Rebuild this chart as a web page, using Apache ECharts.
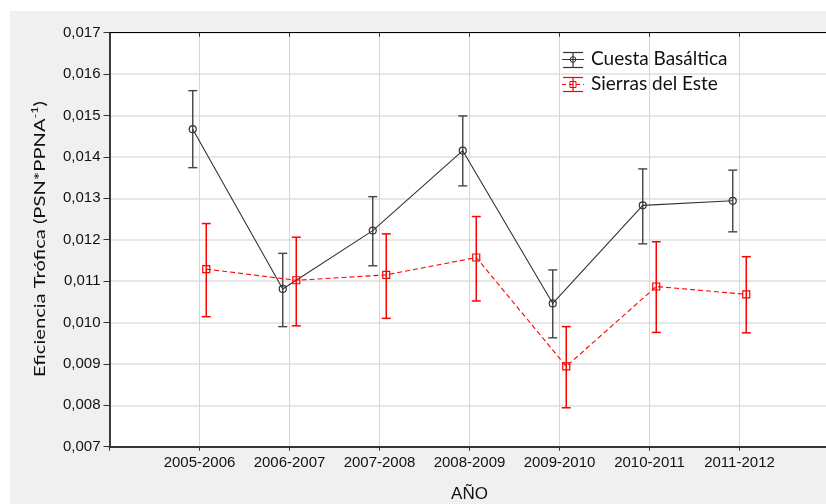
<!DOCTYPE html>
<html>
<head>
<meta charset="utf-8">
<script src="https://cdn.jsdelivr.net/npm/echarts@6/dist/echarts.min.js"></script>
<style>
  html, body { margin: 0; padding: 0; background: #ffffff; }
  #chart { width: 826px; height: 504px; }
</style>
</head>
<body>
<div id="chart"></div>
<script>
// Growing seasons on the horizontal axis
const categories = ['2005-2006', '2006-2007', '2007-2008', '2008-2009', '2009-2010', '2010-2011', '2011-2012'];

// Series names
const seriesNames = ['Cuesta Basáltica', 'Sierras del Este'];

// Cuesta Basáltica: mean with lower / upper error limits
const cuestaMean = [0.01467, 0.01081, 0.01222, 0.01415, 0.01046, 0.01283, 0.01294];
const cuestaLow  = [0.01374, 0.00990, 0.01137, 0.01330, 0.00963, 0.01190, 0.01219];
const cuestaHigh = [0.01560, 0.01167, 0.01304, 0.01499, 0.01127, 0.01371, 0.01368];

// Sierras del Este: mean with lower / upper error limits
const sierrasMean = [0.01129, 0.01102, 0.01115, 0.01157, 0.00894, 0.01087, 0.01068];
const sierrasLow  = [0.01014, 0.00992, 0.01010, 0.01052, 0.00794, 0.00976, 0.00975];
const sierrasHigh = [0.01239, 0.01206, 0.01214, 0.01256, 0.00990, 0.01195, 0.01159];

// Vertical axis range and step
const yMin = 0.007, yMax = 0.017, yStep = 0.001;

// Texts
const xTitle = 'AÑO';
const yTitleMain = 'Eficiencia Trófica (PSN*PPNA';
const yTitleSup = '-1';
const yTitleEnd = ')';

// ---- drawing ----
const BLACK = '#333333';
const RED = '#ff0000';
const SHIFT = 0.075; // side-by-side offset of the two groups inside one season

const chart = echarts.init(document.getElementById('chart'), null, { renderer: 'canvas' });

function meanPoints(means, shift) {
  return means.map((v, i) => [i + 1 + shift, v]);
}
function limitData(low, high, shift) {
  return low.map((lo, i) => [i + 1 + shift, lo, high[i]]);
}
function errorBar(color, width) {
  return function (params, api) {
    const x = api.value(0);
    const lo = api.coord([x, api.value(1)]);
    const hi = api.coord([x, api.value(2)]);
    const c = 4.5;
    const style = { stroke: color, lineWidth: width, fill: null };
    return {
      type: 'group',
      children: [
        { type: 'line', shape: { x1: lo[0], y1: lo[1], x2: hi[0], y2: hi[1] }, style: style },
        { type: 'line', shape: { x1: lo[0] - c, y1: lo[1], x2: lo[0] + c, y2: lo[1] }, style: style },
        { type: 'line', shape: { x1: hi[0] - c, y1: hi[1], x2: hi[0] + c, y2: hi[1] }, style: style }
      ]
    };
  };
}

const LEGEND_FONT = 'Lato, "Open Sans", sans-serif';

const option = {
  animation: false,
  backgroundColor: 'transparent',
  graphic: [
    // grey panel behind the whole figure
    { type: 'rect', z: -100, silent: true, shape: { x: 10, y: 11, width: 816, height: 493 }, style: { fill: '#f0f0f0' } },
    // vertical axis title with superscript
    {
      type: 'text', z: 10, silent: true,
      x: 39.5, y: 239, rotation: Math.PI / 2, scaleX: 1.26, scaleY: 1,
      style: {
        text: '{a|' + yTitleMain + '}{s|' + yTitleSup + '}{a|' + yTitleEnd + '}',
        align: 'center', verticalAlign: 'middle',
        rich: {
          a: { fontFamily: LEGEND_FONT, fontSize: 16, fill: '#111' },
          s: { fontFamily: LEGEND_FONT, fontSize: 10, fill: '#111', padding: [0, 0, 9, 0] }
        }
      }
    },
    // legend: Cuesta Basáltica
    {
      type: 'group', z: 10, silent: true, children: [
        { type: 'line', shape: { x1: 562, y1: 59.5, x2: 584, y2: 59.5 }, style: { stroke: BLACK, lineWidth: 1 } },
        { type: 'line', shape: { x1: 573, y1: 52.5, x2: 573, y2: 67.5 }, style: { stroke: BLACK, lineWidth: 1.2 } },
        { type: 'line', shape: { x1: 563, y1: 52.5, x2: 583, y2: 52.5 }, style: { stroke: BLACK, lineWidth: 1.2 } },
        { type: 'line', shape: { x1: 563, y1: 67.5, x2: 583, y2: 67.5 }, style: { stroke: BLACK, lineWidth: 1.2 } },
        { type: 'circle', shape: { cx: 573, cy: 59.5, r: 2.8 }, style: { stroke: BLACK, lineWidth: 1, fill: 'rgba(255,255,255,0)' } },
        { type: 'text', x: 591, y: 59, style: { text: seriesNames[0], fontFamily: LEGEND_FONT, fontSize: 19, fill: '#111', verticalAlign: 'middle', align: 'left' } }
      ]
    },
    // legend: Sierras del Este
    {
      type: 'group', z: 10, silent: true, children: [
        { type: 'line', shape: { x1: 562, y1: 84.5, x2: 584, y2: 84.5 }, style: { stroke: RED, lineWidth: 1, lineDash: [4, 3] } },
        { type: 'line', shape: { x1: 573, y1: 77.5, x2: 573, y2: 91.5 }, style: { stroke: RED, lineWidth: 1.2 } },
        { type: 'line', shape: { x1: 563, y1: 77.5, x2: 583, y2: 77.5 }, style: { stroke: RED, lineWidth: 1.2 } },
        { type: 'line', shape: { x1: 563, y1: 91.5, x2: 583, y2: 91.5 }, style: { stroke: RED, lineWidth: 1.2 } },
        { type: 'rect', shape: { x: 570, y: 81.5, width: 6, height: 6 }, style: { stroke: RED, lineWidth: 1, fill: 'rgba(255,255,255,0)' } },
        { type: 'text', x: 591, y: 84, style: { text: seriesNames[1], fontFamily: LEGEND_FONT, fontSize: 19, fill: '#111', verticalAlign: 'middle', align: 'left' } }
      ]
    }
  ],
  grid: {
    left: 109.5, top: 32.7, width: 720, height: 414,
    show: true, backgroundColor: '#ffffff', borderWidth: 0,
    containLabel: false, outerBoundsMode: 'none'
  },
  xAxis: [
    {
      type: 'value', position: 'bottom', min: 0, max: 8, interval: 1,
      axisLine: { show: true, onZero: false, lineStyle: { color: '#333', width: 2 } },
      axisTick: { show: true, inside: false, length: 4, lineStyle: { color: '#333' } },
      axisLabel: {
        margin: 9, fontFamily: '"Liberation Sans", Arial, sans-serif', fontSize: 15, color: '#111',
        formatter: v => (v >= 1 && v <= categories.length ? categories[Math.round(v) - 1] : '')
      },
      splitLine: { show: true, lineStyle: { color: '#d6d6d6', width: 1 } },
      name: xTitle, nameLocation: 'middle', nameGap: 48,
      nameTextStyle: { fontFamily: '"Liberation Sans", Arial, sans-serif', fontSize: 17, color: '#111', verticalAlign: 'middle' }
    },
    {
      type: 'value', position: 'top', min: 0, max: 8, interval: 1,
      axisLine: { show: true, onZero: false, lineStyle: { color: '#000', width: 1 } },
      axisTick: { show: true, inside: true, length: 4, lineStyle: { color: '#333' } },
      axisLabel: { show: false },
      splitLine: { show: false }
    }
  ],
  yAxis: {
    type: 'value', min: yMin, max: yMax, interval: yStep,
    axisLine: { show: true, onZero: false, lineStyle: { color: '#000', width: 1.5 } },
    axisTick: { show: true, inside: false, length: 6, lineStyle: { color: '#333' } },
    axisLabel: {
      margin: 9, fontFamily: '"Liberation Sans", Arial, sans-serif', fontSize: 15, color: '#111',
      formatter: v => v.toFixed(3).replace('.', ',')
    },
    splitLine: { show: true, lineStyle: { color: '#dfdfdf', width: 1.5 } }
  },
  series: [
    {
      name: seriesNames[0] + ' límites', type: 'custom', xAxisIndex: 0,
      renderItem: errorBar('#444444', 1.4),
      encode: { x: 0, y: [1, 2] },
      data: limitData(cuestaLow, cuestaHigh, -SHIFT), z: 3
    },
    {
      name: seriesNames[1] + ' límites', type: 'custom', xAxisIndex: 0,
      renderItem: errorBar(RED, 1.5),
      encode: { x: 0, y: [1, 2] },
      data: limitData(sierrasLow, sierrasHigh, SHIFT), z: 3
    },
    {
      name: seriesNames[0], type: 'line', xAxisIndex: 0,
      data: meanPoints(cuestaMean, -SHIFT),
      symbol: 'circle', symbolSize: 7,
      lineStyle: { color: BLACK, width: 1.1 },
      itemStyle: { color: 'rgba(255,255,255,0)', borderColor: BLACK, borderWidth: 1.2 },
      emphasis: { disabled: true }, z: 4
    },
    {
      name: seriesNames[1], type: 'line', xAxisIndex: 0,
      data: meanPoints(sierrasMean, SHIFT),
      symbol: 'rect', symbolSize: 7,
      lineStyle: { color: RED, width: 1.1, type: [5, 3] },
      itemStyle: { color: 'rgba(255,255,255,0)', borderColor: RED, borderWidth: 1.2 },
      emphasis: { disabled: true }, z: 4
    }
  ]
};

chart.setOption(option);
</script>
</body>
</html>
